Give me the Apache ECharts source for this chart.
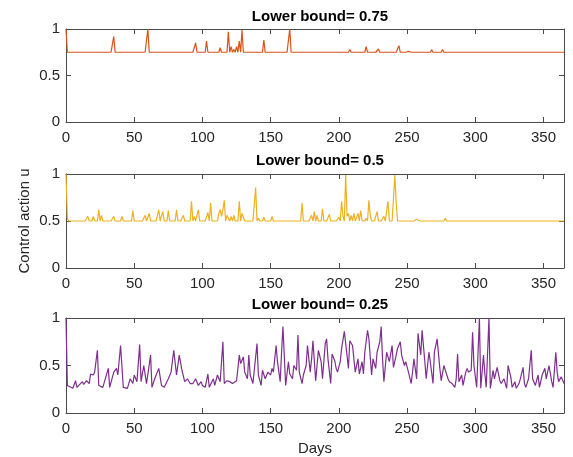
<!DOCTYPE html>
<html>
<head>
<meta charset="utf-8">
<script src="https://cdn.jsdelivr.net/npm/echarts@6/dist/echarts.min.js"></script>
<style>
  html, body { margin: 0; padding: 0; background: #fff; }
  #main { width: 573px; height: 457px; }
</style>
</head>
<body>
<div id="main"></div>
<script>
// titles and bounds of the three panels
const titles = ['Lower bound= 0.75', 'Lower bound= 0.5', 'Lower bound= 0.25'];
const lowerBounds = [0.75, 0.5, 0.25];
const colors = ['#D95319', '#EDB120', '#7E2F8E'];

// panel 1: days where u leaves the 0.75 floor
const spikeDays75 = [0, 35, 60, 95, 103, 113, 119, 121, 123, 125, 127, 129, 145, 155, 164,
  208, 220, 222, 229, 244, 246, 251, 268, 276];
const spikeVals75 = [1.0, 0.92, 1.0, 0.85, 0.87, 0.80, 0.97, 0.81, 0.78, 0.81, 0.87, 0.99, 0.88, 0.77, 1.0,
  0.78, 0.81, 0.76, 0.785, 0.82, 0.76, 0.76, 0.775, 0.78];

// panel 2: days where u leaves the 0.5 floor
const spikeDays50 = [0, 1, 16, 20, 24, 26, 35, 41, 49, 58, 61, 68, 70, 71, 75, 81, 86, 92, 94, 97,
  104, 106, 112, 113, 114, 115, 116, 118, 119, 121, 123, 127, 129, 130, 139, 141, 145, 151, 173,
  180, 182, 184, 188, 193, 200, 202, 203, 205, 206, 207, 209, 211, 214, 216, 220, 222, 223, 228,
  233, 236, 240, 241, 242, 252, 257, 278];
const spikeVals50 = [1.0, 0.53, 0.55, 0.55, 0.62, 0.56, 0.55, 0.55, 0.61, 0.56, 0.58, 0.62, 0.56, 0.60, 0.61, 0.62, 0.56, 0.71, 0.55, 0.62,
  0.59, 0.69, 0.58, 0.62, 0.55, 0.62, 0.72, 0.56, 0.58, 0.55, 0.56, 0.71, 0.58, 0.60, 0.855, 0.53, 0.54, 0.55, 0.69,
  0.56, 0.60, 0.56, 0.63, 0.57, 0.54, 0.71, 0.55, 0.99, 0.55, 0.58, 0.56, 0.58, 0.58, 0.61, 0.53, 0.72, 0.56, 0.60,
  0.55, 0.71, 0.73, 0.99, 0.70, 0.52, 0.52, 0.53];

// panel 3: vertices of the 0.25 trace
const days25 = [0, 1, 5, 7, 8, 12, 13, 15, 17, 18, 20, 21, 23, 24, 27, 28, 31, 32, 35, 36, 37, 38, 40, 42, 45, 47, 49, 50,
  52, 54, 55, 57, 59, 62, 63, 65, 68, 70, 72, 75, 77, 79, 81, 83, 85, 87, 89, 91, 93, 95, 97, 99, 100, 102, 104,
  105, 108, 109, 111, 113, 115, 116, 118, 120, 122, 125, 126, 127, 128, 130, 131, 133, 134, 135, 137, 138, 140,
  141, 143, 144, 146, 148, 150, 151, 152, 154, 155, 157, 158, 159, 161, 163, 164, 166, 167, 169, 170, 171, 173,
  174, 176, 177, 179, 180, 181, 183, 185, 187, 188, 190, 191, 192, 194, 195, 197, 198, 199, 201, 202, 204, 205,
  207, 208, 210, 212, 214, 215, 217, 218, 219, 221, 222, 224, 225, 227, 228, 230, 231, 232, 233, 235, 237, 239,
  240, 242, 243, 245, 246, 248, 249, 251, 253, 254, 255, 257, 258, 260, 261, 263, 264, 266, 267, 269, 270, 272,
  273, 274, 275, 277, 278, 280, 281, 282, 283, 285, 286, 287, 288, 290, 291, 293, 294, 295, 297, 298, 299, 301,
  303, 304, 306, 307, 308, 310, 311, 313, 314, 316, 318, 319, 321, 323, 324, 326, 327, 329, 330, 332, 333, 335,
  336, 337, 339, 341, 342, 344, 346, 347, 349, 351, 352, 354, 356, 357, 359, 360, 361, 363, 365];
const vals25 = [1.0, 0.29, 0.26, 0.34, 0.27, 0.33, 0.30, 0.34, 0.31, 0.41, 0.40, 0.43, 0.66, 0.29, 0.27, 0.28, 0.47, 0.27, 0.43, 0.41, 0.47, 0.40, 0.71, 0.27, 0.26, 0.36, 0.31, 0.40,
  0.33, 0.72, 0.33, 0.50, 0.31, 0.61, 0.27, 0.36, 0.47, 0.29, 0.27, 0.36, 0.43, 0.66, 0.40, 0.61, 0.45, 0.33, 0.36, 0.31, 0.31, 0.36, 0.29, 0.33, 0.29, 0.27, 0.41,
  0.27, 0.36, 0.29, 0.40, 0.33, 0.75, 0.31, 0.34, 0.33, 0.31, 0.34, 0.47, 0.61, 0.52, 0.59, 0.43, 0.36, 0.61, 0.40, 0.31, 0.45, 0.73,
  0.40, 0.29, 0.45, 0.36, 0.43, 0.40, 0.47, 0.43, 0.71, 0.54, 0.33, 0.64, 0.91, 0.29, 0.54, 0.41, 0.36, 0.50, 0.45, 0.82, 0.43, 0.31,
  0.40, 0.50, 0.71, 0.43, 0.57, 0.76, 0.34, 0.66, 0.54, 0.36, 0.73, 0.78, 0.57, 0.31, 0.62, 0.55, 0.47, 0.43, 0.54, 0.68, 0.86, 0.84,
  0.47, 0.76, 0.71, 0.43, 0.57, 0.41, 0.54, 0.41, 0.64, 0.87, 0.78, 0.40, 0.57, 0.47, 0.64, 0.75, 0.91, 0.57, 0.33, 0.64, 0.54, 0.71,
  0.48, 0.61, 0.68, 0.75, 0.61, 0.50, 0.54, 0.43, 0.31, 0.43, 0.57, 0.36, 0.84, 0.61, 0.87, 0.54, 0.36, 0.64, 0.54, 0.31, 0.64, 0.78,
  0.80, 0.47, 0.34, 0.50, 0.45, 0.36, 0.33, 0.34, 0.31, 0.27, 0.36, 0.62, 0.33, 0.40, 0.29, 0.43, 0.47, 0.43, 0.45, 0.85, 0.50, 0.27,
  1.0, 0.26, 0.61, 0.41, 0.27, 1.0, 0.26, 0.45, 0.36, 0.48, 0.34, 0.31, 0.36, 0.26, 0.50, 0.38, 0.27, 0.33, 0.26, 0.31, 0.36, 0.48,
  0.31, 0.27, 0.36, 0.66, 0.36, 0.29, 0.40, 0.27, 0.40, 0.47, 0.36, 0.50, 0.33, 0.27, 0.64, 0.43, 0.33, 0.38, 0.31];

const dayMax = 365;

function dailyFromSpikes(bound, days, vals) {
  const arr = [];
  for (let d = 0; d <= dayMax; d++) arr.push([d, bound]);
  days.forEach((d, i) => { arr[d][1] = vals[i]; });
  return arr;
}

const seriesData = [
  dailyFromSpikes(lowerBounds[0], spikeDays75, spikeVals75),
  dailyFromSpikes(lowerBounds[1], spikeDays50, spikeVals50),
  days25.map((d, i) => [d, vals25[i]])
];

const font = "'Liberation Sans', Arial, sans-serif";
const axisColor = '#4a4a4a';
const grids = [
  { left: 66, right: 9, top: 29, height: 93 },
  { left: 66, right: 9, top: 174, height: 94 },
  { left: 66, right: 9, top: 318, height: 95 }
];

const xAxes = [];
const yAxes = [];
// main axes first (0..2), then mirrored box axes (3..5)
[false, true].forEach(mirror => {
  grids.forEach((g, i) => {
    xAxes.push({
      type: 'value', gridIndex: i, min: 0, max: dayMax, interval: 50,
      position: mirror ? 'top' : 'bottom',
      axisLine: { show: true, onZero: false, lineStyle: { color: axisColor, width: 1 } },
      axisTick: { show: true, inside: true, length: 5, lineStyle: { color: axisColor } },
      axisLabel: { show: !mirror, showMaxLabel: false, color: '#262626', fontSize: 15, fontFamily: font, margin: 8 },
      splitLine: { show: false },
      name: (!mirror && i === 2) ? 'Days' : '',
      nameLocation: 'middle', nameGap: 28,
      nameTextStyle: { color: '#262626', fontSize: 15, fontFamily: font }
    });
    yAxes.push({
      type: 'value', gridIndex: i, min: 0, max: 1, interval: 0.5,
      position: mirror ? 'right' : 'left',
      axisLine: { show: true, onZero: false, lineStyle: { color: axisColor, width: 1 } },
      axisTick: { show: true, inside: true, length: 5, lineStyle: { color: axisColor } },
      axisLabel: { show: !mirror, color: '#262626', fontSize: 15, fontFamily: font, margin: 6 },
      splitLine: { show: false },
      name: (!mirror && i === 1) ? 'Control action u' : '',
      nameLocation: 'middle', nameGap: 34,
      nameMoveOverlap: false,
      nameTextStyle: { color: '#262626', fontSize: 15, fontFamily: font }
    });
  });
});

const option = {
  animation: false,
  backgroundColor: '#fff',
  title: titles.map((t, i) => ({
    text: t,
    left: 315, top: [4, 148, 292][i],
    textAlign: 'center',
    textStyle: { fontSize: 15, fontWeight: 'bold', color: '#000', fontFamily: font }
  })),
  grid: grids,
  xAxis: xAxes,
  yAxis: yAxes,
  series: seriesData.map((data, i) => ({
    type: 'line',
    xAxisIndex: i,
    yAxisIndex: i,
    data: data,
    showSymbol: false,
    clip: true,
    lineStyle: { color: colors[i], width: 1.2 },
    itemStyle: { color: colors[i] }
  }))
};

const myChart = echarts.init(document.getElementById('main'));
myChart.setOption(option);
</script>
</body>
</html>
